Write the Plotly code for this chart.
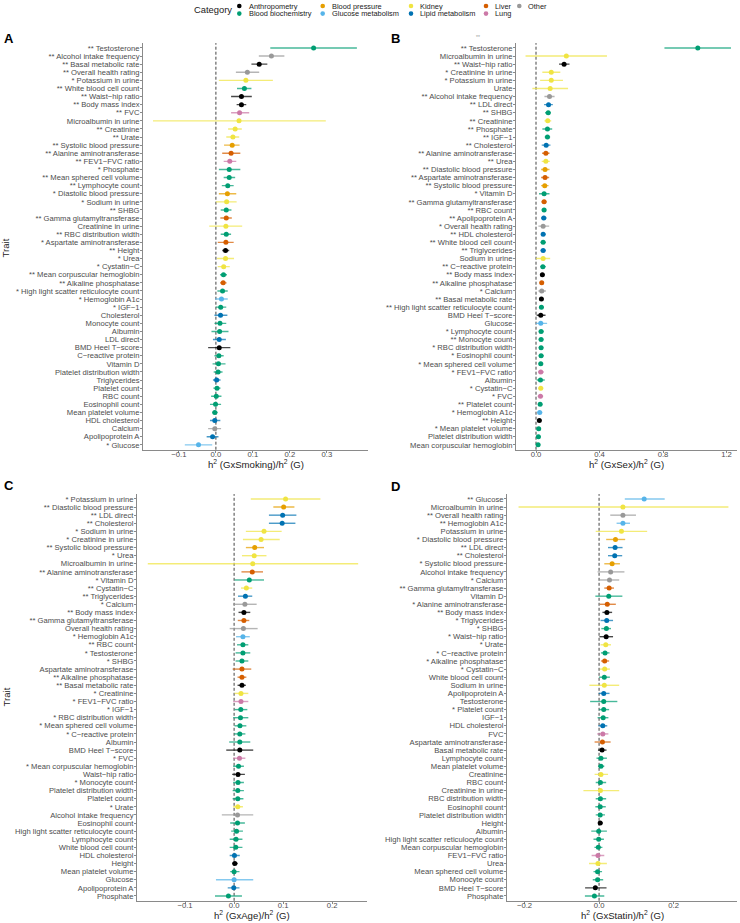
import plotly.graph_objects as go

W, H = 740, 923
M = "\u2212"

CATEGORIES = ["Anthropometry", "Blood biochemistry", "Blood pressure", "Glucose metabolism",
              "Kidney", "Lipid metabolism", "Liver", "Lung", "Other"]
COLORS = ["#000000", "#009E73", "#E69F00", "#56B4E9", "#F0E442", "#0072B2", "#D55E00", "#CC79A7", "#999999"]

TRAIT_CATEGORY = {
    "Basal metabolic rate": "Anthropometry", "Waist" + M + "hip ratio": "Anthropometry",
    "Body mass index": "Anthropometry", "Height": "Anthropometry", "BMD Heel T" + M + "score": "Anthropometry",
    "Testosterone": "Blood biochemistry", "White blood cell count": "Blood biochemistry",
    "Phosphate": "Blood biochemistry", "Mean sphered cell volume": "Blood biochemistry",
    "Lymphocyte count": "Blood biochemistry", "SHBG": "Blood biochemistry",
    "RBC distribution width": "Blood biochemistry", "Mean corpuscular hemoglobin": "Blood biochemistry",
    "High light scatter reticulocyte count": "Blood biochemistry", "IGF" + M + "1": "Blood biochemistry",
    "Monocyte count": "Blood biochemistry", "Albumin": "Blood biochemistry",
    "C" + M + "reactive protein": "Blood biochemistry", "Vitamin D": "Blood biochemistry",
    "Platelet distribution width": "Blood biochemistry", "Platelet count": "Blood biochemistry",
    "RBC count": "Blood biochemistry", "Eosinophil count": "Blood biochemistry",
    "Mean platelet volume": "Blood biochemistry",
    "Systolic blood pressure": "Blood pressure", "Diastolic blood pressure": "Blood pressure",
    "Hemoglobin A1c": "Glucose metabolism", "Glucose": "Glucose metabolism",
    "Potassium in urine": "Kidney", "Microalbumin in urine": "Kidney", "Creatinine": "Kidney",
    "Urate": "Kidney", "Sodium in urine": "Kidney", "Creatinine in urine": "Kidney",
    "Urea": "Kidney", "Cystatin" + M + "C": "Kidney",
    "Cholesterol": "Lipid metabolism", "LDL direct": "Lipid metabolism", "Triglycerides": "Lipid metabolism",
    "HDL cholesterol": "Lipid metabolism", "Apolipoprotein A": "Lipid metabolism",
    "Alanine aminotransferase": "Liver", "Gamma glutamyltransferase": "Liver",
    "Aspartate aminotransferase": "Liver", "Alkaline phosphatase": "Liver",
    "FVC": "Lung", "FEV1" + M + "FVC ratio": "Lung",
    "Alcohol intake frequency": "Other", "Overall health rating": "Other", "Calcium": "Other",
}

# ---------------- Panel A: GxSmoking ----------------
A_traits = ["Testosterone", "Alcohol intake frequency", "Basal metabolic rate", "Overall health rating",
            "Potassium in urine", "White blood cell count", "Waist" + M + "hip ratio", "Body mass index", "FVC",
            "Microalbumin in urine", "Creatinine", "Urate", "Systolic blood pressure", "Alanine aminotransferase",
            "FEV1" + M + "FVC ratio", "Phosphate", "Mean sphered cell volume", "Lymphocyte count",
            "Diastolic blood pressure", "Sodium in urine", "SHBG", "Gamma glutamyltransferase",
            "Creatinine in urine", "RBC distribution width", "Aspartate aminotransferase", "Height", "Urea",
            "Cystatin" + M + "C", "Mean corpuscular hemoglobin", "Alkaline phosphatase",
            "High light scatter reticulocyte count", "Hemoglobin A1c", "IGF" + M + "1", "Cholesterol",
            "Monocyte count", "Albumin", "LDL direct", "BMD Heel T" + M + "score", "C" + M + "reactive protein",
            "Vitamin D", "Platelet distribution width", "Triglycerides", "Platelet count", "RBC count",
            "Eosinophil count", "Mean platelet volume", "HDL cholesterol", "Calcium", "Apolipoprotein A", "Glucose"]
A_stars = ["**", "**", "**", "**", "*", "**", "**", "**", "**", "", "**", "**", "**", "**", "**", "*", "**", "**",
           "*", "*", "**", "**", "", "**", "*", "**", "*", "*", "**", "**", "*", "*", "*", "", "", "", "", "", "",
           "", "", "", "", "", "", "", "", "", "", "*"]
A_est = [0.264, 0.150, 0.117, 0.085, 0.081, 0.077, 0.069, 0.069, 0.064, 0.0625, 0.052, 0.046, 0.044, 0.041,
         0.0375, 0.036, 0.036, 0.032, 0.031, 0.029, 0.028, 0.028, 0.027, 0.028, 0.027, 0.026, 0.026, 0.021,
         0.0205, 0.0196, 0.018, 0.015, 0.013, 0.0125, 0.011, 0.010, 0.009, 0.009, 0.008, 0.007, 0.006, 0.002,
         0.003, 0.001, -0.001, -0.003, -0.003, -0.003, -0.009, -0.047]
A_lo = [0.147, 0.116, 0.096, 0.054, 0.008, 0.057, 0.041, 0.056, 0.041, -0.170, 0.033, 0.028, 0.022, 0.017,
        0.021, 0.008, 0.021, 0.016, 0.008, 0.000, 0.013, 0.012, -0.018, 0.013, 0.005, 0.017, 0.003, 0.005,
        0.011, 0.011, 0.004, -0.002, 0.000, -0.004, -0.004, -0.012, -0.008, -0.021, -0.004, -0.009, -0.006,
        -0.008, -0.007, -0.013, -0.016, -0.010, -0.016, -0.021, -0.025, -0.084]
A_hi = [0.381, 0.185, 0.139, 0.117, 0.154, 0.096, 0.097, 0.082, 0.090, 0.297, 0.070, 0.063, 0.064, 0.066,
        0.055, 0.066, 0.052, 0.048, 0.055, 0.056, 0.042, 0.043, 0.071, 0.041, 0.048, 0.036, 0.049, 0.0375,
        0.030, 0.029, 0.032, 0.032, 0.028, 0.031, 0.028, 0.034, 0.027, 0.039, 0.021, 0.026, 0.018, 0.0125,
        0.0125, 0.015, 0.014, 0.005, 0.012, 0.014, 0.007, -0.010]

# ---------------- Panel B: GxSex ----------------
B_traits = ["Testosterone", "Microalbumin in urine", "Waist" + M + "hip ratio", "Creatinine in urine",
            "Potassium in urine", "Urate", "Alcohol intake frequency", "LDL direct", "SHBG", "Creatinine",
            "Phosphate", "IGF" + M + "1", "Cholesterol", "Alanine aminotransferase", "Urea",
            "Diastolic blood pressure", "Aspartate aminotransferase", "Systolic blood pressure", "Vitamin D",
            "Gamma glutamyltransferase", "RBC count", "Apolipoprotein A", "Overall health rating",
            "HDL cholesterol", "White blood cell count", "Triglycerides", "Sodium in urine",
            "C" + M + "reactive protein", "Body mass index", "Alkaline phosphatase", "Calcium",
            "Basal metabolic rate", "High light scatter reticulocyte count", "BMD Heel T" + M + "score", "Glucose",
            "Lymphocyte count", "Monocyte count", "RBC distribution width", "Eosinophil count",
            "Mean sphered cell volume", "FEV1" + M + "FVC ratio", "Albumin", "Cystatin" + M + "C", "FVC",
            "Platelet count", "Hemoglobin A1c", "Height", "Mean platelet volume", "Platelet distribution width",
            "Mean corpuscular hemoglobin"]
B_stars = ["**", "", "**", "*", "*", "", "**", "**", "**", "**", "**", "**", "**", "**", "**", "**", "**", "**",
           "*", "**", "**", "**", "*", "**", "**", "**", "", "**", "**", "**", "*", "**", "**", "", "", "*", "**",
           "*", "*", "*", "*", "", "*", "*", "**", "*", "**", "*", "", ""]
B_est = [1.019, 0.191, 0.177, 0.096, 0.096, 0.089, 0.085, 0.079, 0.077, 0.074, 0.072, 0.072, 0.064, 0.062,
         0.062, 0.057, 0.057, 0.055, 0.051, 0.051, 0.051, 0.049, 0.045, 0.045, 0.045, 0.045, 0.045, 0.043,
         0.040, 0.036, 0.036, 0.034, 0.034, 0.030, 0.030, 0.032, 0.032, 0.032, 0.032, 0.030, 0.030, 0.028,
         0.030, 0.028, 0.026, 0.023, 0.021, 0.017, 0.015, 0.013]
B_lo = [0.809, -0.066, 0.145, 0.040, 0.026, -0.023, 0.053, 0.051, 0.057, 0.053, 0.040, 0.055, 0.036, 0.038,
        0.036, 0.032, 0.032, 0.032, 0.019, 0.034, 0.036, 0.032, 0.015, 0.032, 0.028, 0.028, 0.000, 0.026,
        0.026, 0.023, 0.015, 0.019, 0.019, 0.004, -0.002, 0.017, 0.017, 0.017, 0.017, 0.015, 0.013, 0.004,
        0.015, 0.011, 0.013, 0.009, 0.011, 0.004, 0.002, 0.000]
B_hi = [1.228, 0.447, 0.211, 0.153, 0.170, 0.202, 0.117, 0.106, 0.094, 0.096, 0.102, 0.089, 0.091, 0.085,
        0.087, 0.085, 0.083, 0.079, 0.085, 0.068, 0.064, 0.066, 0.083, 0.060, 0.062, 0.062, 0.089, 0.062,
        0.055, 0.049, 0.062, 0.047, 0.049, 0.060, 0.070, 0.049, 0.047, 0.047, 0.049, 0.045, 0.049, 0.055,
        0.045, 0.045, 0.040, 0.040, 0.034, 0.030, 0.030, 0.028]

# ---------------- Panel C: GxAge ----------------
C_traits = ["Potassium in urine", "Diastolic blood pressure", "LDL direct", "Cholesterol", "Sodium in urine",
            "Creatinine in urine", "Systolic blood pressure", "Urea", "Microalbumin in urine",
            "Alanine aminotransferase", "Vitamin D", "Cystatin" + M + "C", "Triglycerides", "Calcium",
            "Body mass index", "Gamma glutamyltransferase", "Overall health rating", "Hemoglobin A1c",
            "RBC count", "Testosterone", "SHBG", "Aspartate aminotransferase", "Alkaline phosphatase",
            "Basal metabolic rate", "Creatinine", "FEV1" + M + "FVC ratio", "IGF" + M + "1",
            "RBC distribution width", "Mean sphered cell volume", "C" + M + "reactive protein", "Albumin",
            "BMD Heel T" + M + "score", "FVC", "Mean corpuscular hemoglobin", "Waist" + M + "hip ratio",
            "Monocyte count", "Platelet distribution width", "Platelet count", "Urate", "Alcohol intake frequency",
            "Eosinophil count", "High light scatter reticulocyte count", "Lymphocyte count",
            "White blood cell count", "HDL cholesterol", "Height", "Mean platelet volume", "Glucose",
            "Apolipoprotein A", "Phosphate"]
C_stars = ["*", "**", "**", "**", "*", "*", "**", "*", "", "**", "*", "**", "**", "*", "**", "**", "", "*", "**",
           "*", "*", "", "**", "**", "*", "*", "*", "*", "*", "*", "", "", "*", "*", "", "*", "", "", "*", "",
           "", "", "", "", "", "", "", "", "", ""]
C_est = [0.105, 0.101, 0.099, 0.098, 0.061, 0.055, 0.042, 0.041, 0.038, 0.037, 0.031, 0.025, 0.023, 0.022,
         0.020, 0.020, 0.019, 0.018, 0.018, 0.018, 0.016, 0.016, 0.016, 0.016, 0.014, 0.014, 0.0136, 0.013,
         0.012, 0.0116, 0.0116, 0.0116, 0.011, 0.009, 0.008, 0.008, 0.0075, 0.0075, 0.0075, 0.007, 0.007,
         0.005, 0.004, 0.0034, 0.0007, 0.0014, 0.000, 0.000, -0.0007, -0.0116]
C_lo = [0.034, 0.080, 0.071, 0.071, 0.024, 0.018, 0.024, 0.016, -0.176, 0.015, 0.001, 0.014, 0.008, -0.002,
        0.009, 0.0075, -0.009, 0.004, 0.006, 0.003, 0.003, -0.003, 0.007, 0.007, 0.001, -0.002, 0.001,
        -0.002, 0.001, 0.000, -0.010, -0.016, -0.002, -0.002, -0.004, -0.002, -0.003, -0.003, -0.002,
        -0.025, -0.008, -0.006, -0.009, -0.009, -0.009, -0.004, -0.008, -0.037, -0.013, -0.039]
C_hi = [0.176, 0.123, 0.127, 0.125, 0.097, 0.093, 0.061, 0.066, 0.253, 0.059, 0.061, 0.037, 0.037, 0.046,
        0.033, 0.031, 0.048, 0.032, 0.029, 0.033, 0.029, 0.035, 0.025, 0.024, 0.029, 0.029, 0.027, 0.029,
        0.025, 0.023, 0.033, 0.039, 0.023, 0.020, 0.022, 0.020, 0.020, 0.019, 0.018, 0.039, 0.022, 0.018,
        0.017, 0.017, 0.0116, 0.0075, 0.011, 0.039, 0.011, 0.016]

# ---------------- Panel D: GxStatin ----------------
D_traits = ["Glucose", "Microalbumin in urine", "Overall health rating", "Hemoglobin A1c", "Potassium in urine",
            "Diastolic blood pressure", "LDL direct", "Cholesterol", "Systolic blood pressure",
            "Alcohol intake frequency", "Calcium", "Gamma glutamyltransferase", "Vitamin D",
            "Alanine aminotransferase", "Body mass index", "Triglycerides", "SHBG", "Waist" + M + "hip ratio",
            "Urate", "C" + M + "reactive protein", "Alkaline phosphatase", "Cystatin" + M + "C",
            "White blood cell count", "Sodium in urine", "Apolipoprotein A", "Testosterone", "Platelet count",
            "IGF" + M + "1", "HDL cholesterol", "FVC", "Aspartate aminotransferase", "Basal metabolic rate",
            "Lymphocyte count", "Mean platelet volume", "Creatinine", "RBC count", "Creatinine in urine",
            "RBC distribution width", "Eosinophil count", "Platelet distribution width", "Height", "Albumin",
            "High light scatter reticulocyte count", "Mean corpuscular hemoglobin", "FEV1" + M + "FVC ratio",
            "Urea", "Mean sphered cell volume", "Monocyte count", "BMD Heel T" + M + "score", "Phosphate"]
D_stars = ["**", "", "**", "**", "", "*", "**", "**", "*", "", "*", "**", "", "*", "**", "*", "*", "*", "*", "*",
           "*", "*", "", "", "", "", "*", "", "", "", "", "", "", "", "", "", "", "", "", "", "", "", "", "",
           "", "", "", "", "", ""]
D_est = [0.121, 0.064, 0.064, 0.064, 0.060, 0.044, 0.043, 0.042, 0.035, 0.031, 0.028, 0.027, 0.026, 0.022,
         0.021, 0.0205, 0.0196, 0.019, 0.018, 0.016, 0.015, 0.015, 0.014, 0.014, 0.0125, 0.0125, 0.0125,
         0.011, 0.010, 0.010, 0.009, 0.008, 0.005, 0.005, 0.005, 0.0036, 0.0036, 0.0036, 0.003, 0.003, 0.003,
         -0.001, -0.001, -0.002, -0.003, -0.003, -0.004, -0.004, -0.010, -0.0125]
D_lo = [0.069, -0.216, 0.030, 0.047, -0.009, 0.019, 0.024, 0.024, 0.014, -0.004, 0.002, 0.014, -0.010, 0.002,
        0.009, 0.004, 0.006, 0.001, 0.004, 0.005, 0.005, 0.002, 0.000, -0.026, -0.001, -0.024, 0.000,
        -0.004, -0.002, -0.005, -0.012, -0.003, -0.007, -0.003, -0.012, -0.009, -0.042, -0.009, -0.010,
        -0.009, -0.003, -0.021, -0.015, -0.0125, -0.020, -0.027, -0.015, -0.017, -0.0375, -0.038]
D_hi = [0.176, 0.347, 0.099, 0.083, 0.129, 0.070, 0.063, 0.062, 0.056, 0.068, 0.054, 0.040, 0.0625, 0.045,
        0.035, 0.0375, 0.032, 0.0375, 0.032, 0.028, 0.027, 0.029, 0.029, 0.054, 0.028, 0.049, 0.027, 0.025,
        0.022, 0.025, 0.031, 0.020, 0.021, 0.014, 0.024, 0.019, 0.054, 0.019, 0.018, 0.016, 0.010, 0.021,
        0.013, 0.009, 0.014, 0.021, 0.008, 0.011, 0.020, 0.014]

X_TITLES = ["h<sup>2</sup> (GxSmoking)/h<sup>2</sup> (G)", "h<sup>2</sup> (GxSex)/h<sup>2</sup> (G)",
            "h<sup>2</sup> (GxAge)/h<sup>2</sup> (G)", "h<sup>2</sup> (GxStatin)/h<sup>2</sup> (G)"]
X_TICKS = [[-0.1, 0.0, 0.1, 0.2, 0.3], [0.0, 0.4, 0.8, 1.2], [-0.1, 0.0, 0.1, 0.2], [-0.2, 0.0, 0.2]]
PANEL_LETTERS = ["A", "B", "C", "D"]

# ---------------- layout geometry (pixels) ----------------
PANELS = [
    dict(x0=143, x1=368, y0=43.1, y1=449.7, xr=[-0.197, 0.411], data=(A_traits, A_stars, A_est, A_lo, A_hi)),
    dict(x0=516, x1=737, y0=43.1, y1=449.7, xr=[-0.126, 1.266], data=(B_traits, B_stars, B_est, B_lo, B_hi)),
    dict(x0=137, x1=367, y0=494.1, y1=900.8, xr=[-0.198, 0.271], data=(C_traits, C_stars, C_est, C_lo, C_hi)),
    dict(x0=507, x1=737, y0=494.1, y1=900.8, xr=[-0.247, 0.370], data=(D_traits, D_stars, D_est, D_lo, D_hi)),
]

def px(x):
    return x / W

def py(y):
    return 1 - y / H

def rgba(hexc, a):
    hexc = hexc.lstrip("#")
    r, g, b = int(hexc[0:2], 16), int(hexc[2:4], 16), int(hexc[4:6], 16)
    return f"rgba({r},{g},{b},{a})"

FONT = "Liberation Sans, Arial, sans-serif"
AXCOL = "#8a8a8a"
TXTCOL = "#4D4D4D"

fig = go.Figure()
layout = dict(width=W, height=H, margin=dict(l=0, r=0, t=0, b=0), plot_bgcolor="white",
              paper_bgcolor="white", showlegend=False, font=dict(family=FONT))
shapes = []
annotations = []

for i, p in enumerate(PANELS):
    traits, stars, est, lo, hi = p["data"]
    n = len(traits)
    xa = "x" if i == 0 else f"x{i+1}"
    ya = "y" if i == 0 else f"y{i+1}"
    xkey = "xaxis" if i == 0 else f"xaxis{i+1}"
    ykey = "yaxis" if i == 0 else f"yaxis{i+1}"
    labels = [(s + " " + t) if s else t for s, t in zip(stars, traits)]
    for cat, col in zip(CATEGORIES, COLORS):
        idx = [k for k in range(n) if TRAIT_CATEGORY[traits[k]] == cat]
        if not idx:
            continue
        fig.add_trace(go.Scatter(
            x=[est[k] for k in idx], y=[k for k in idx], mode="markers",
            marker=dict(color=col, size=5, line=dict(width=0)),
            error_x=dict(type="data", symmetric=False,
                         array=[hi[k] - est[k] for k in idx],
                         arrayminus=[est[k] - lo[k] for k in idx],
                         color=rgba(col, 0.72), thickness=1.4, width=0),
            xaxis=xa, yaxis=ya, cliponaxis=False, hoverinfo="skip"))
    layout[xkey] = dict(domain=[px(p["x0"]), px(p["x1"])], range=p["xr"], anchor=ya,
                        tickvals=X_TICKS[i], ticktext=[f"{v:.1f}".replace("-", M) for v in X_TICKS[i]],
                        showline=True, linecolor=AXCOL, linewidth=1, ticks="outside", ticklen=2,
                        tickcolor=AXCOL, showgrid=False, zeroline=False, ticklabelstandoff=-5,
                        tickfont=dict(size=7.7, color=TXTCOL, family=FONT))
    layout[ykey] = dict(domain=[py(p["y1"]), py(p["y0"])], range=[n - 1 + 0.6, -0.6], anchor=xa,
                        tickvals=list(range(n)), ticktext=labels, showline=True, linecolor=AXCOL, linewidth=1,
                        ticks="outside", ticklen=2, tickcolor=AXCOL, showgrid=False, zeroline=False,
                        ticklabelstandoff=-1,
                        tickfont=dict(size=7.65, color=TXTCOL, family=FONT))
    shapes.append(dict(type="line", xref=xa, yref=f"{ya} domain", x0=0, x1=0, y0=0, y1=1,
                       line=dict(color="#444444", width=1, dash="3px,2px"), layer="below"))
    # x-axis title
    annotations.append(dict(text=X_TITLES[i], xref="paper", yref="paper", x=px((p["x0"] + p["x1"]) / 2),
                            y=py(p["y1"] + 14.5), xanchor="center", yanchor="middle", showarrow=False,
                            borderpad=0, font=dict(size=9.6, color="#1a1a1a", family=FONT)))

# panel letters
for letter, (x, y) in zip(PANEL_LETTERS, [(9, 39), (395, 38.5), (8.5, 485.5), (395, 486)]):
    annotations.append(dict(text=f"<b>{letter}</b>", xref="paper", yref="paper", x=px(x), y=py(y),
                            xanchor="center", yanchor="middle", showarrow=False, borderpad=0,
                            font=dict(size=13, color="black", family=FONT)))

# y-axis titles
for y in (248, 697):
    annotations.append(dict(text="Trait", xref="paper", yref="paper", x=px(5.5), y=py(y), textangle=-90,
                            xanchor="center", yanchor="middle", showarrow=False, borderpad=0,
                            font=dict(size=9.6, color="#1a1a1a", family=FONT)))

# stray small label above panel B
annotations.append(dict(text="**", xref="paper", yref="paper", x=px(477.5), y=py(37.5), xanchor="center",
                        yanchor="middle", showarrow=False, borderpad=0,
                        font=dict(size=5, color="#9a9a9a", family=FONT)))

# legend (column-major, 2 rows)
annotations.append(dict(text="Category", xref="paper", yref="paper", x=px(193), y=py(10), xanchor="left",
                        yanchor="middle", showarrow=False, borderpad=0,
                        font=dict(size=9.4, color="#1a1a1a", family=FONT)))
leg_cols = [(239.3, 247.7), (322.7, 331), (411, 418.7), (486, 494), (519.3, 526.7)]
leg_rows = [6, 13.6]
for k, (cat, col) in enumerate(zip(CATEGORIES, COLORS)):
    c, r = divmod(k, 2)
    mx, tx = leg_cols[c]
    my = leg_rows[r]
    rr = 2.3
    shapes.append(dict(type="circle", xref="paper", yref="paper", x0=px(mx - rr), x1=px(mx + rr),
                       y0=py(my + rr), y1=py(my - rr), fillcolor=col, line=dict(width=0)))
    annotations.append(dict(text=cat, xref="paper", yref="paper", x=px(tx), y=py(my), xanchor="left",
                            yanchor="middle", showarrow=False, borderpad=0,
                            font=dict(size=7.4, color="#1a1a1a", family=FONT)))

layout["shapes"] = shapes
layout["annotations"] = annotations
fig.update_layout(**layout)
fig.write_html("out.html", config={"displayModeBar": False, "staticPlot": True},
               post_script="document.body.style.margin='0';document.body.style.padding='0';"
                           "document.body.style.overflow='hidden';")
